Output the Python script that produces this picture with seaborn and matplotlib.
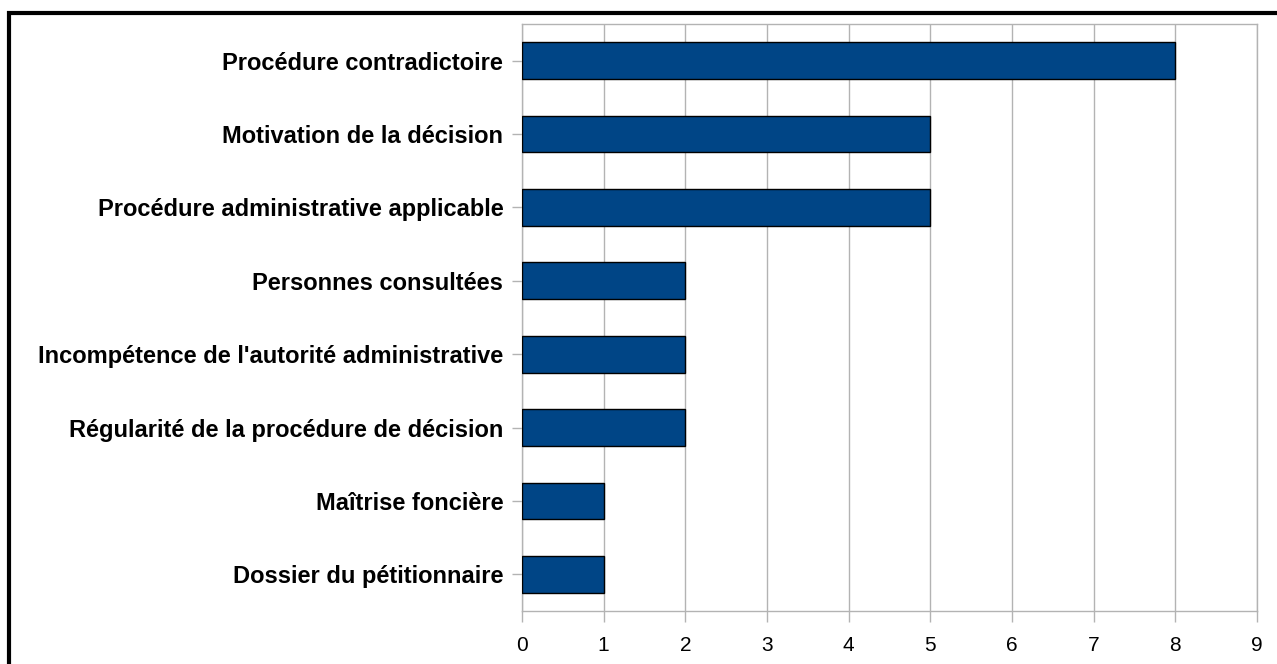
import matplotlib
matplotlib.use("Agg")
import matplotlib.pyplot as plt
import seaborn as sns
import pandas as pd
from matplotlib.lines import Line2D

categories = [
    "Procédure contradictoire",
    "Motivation de la décision",
    "Procédure administrative applicable",
    "Personnes consultées",
    "Incompétence de l'autorité administrative",
    "Régularité de la procédure de décision",
    "Maîtrise foncière",
    "Dossier du pétitionnaire",
]
values = [8, 5, 5, 2, 2, 2, 1, 1]
xticks = list(range(0, 10))

sns.set_theme(style="white")
plt.rcParams['font.family'] = ['Liberation Sans', 'DejaVu Sans']

df = pd.DataFrame({"cat": categories, "val": values})

fig = plt.figure(figsize=(12.77, 6.64), dpi=100)
ax = fig.add_axes([522/1277, 53/664, 735/1277, 587/664])

sns.barplot(data=df, x="val", y="cat", orient="h", color="#004586",
            saturation=1, width=0.5, edgecolor="black", linewidth=1, ax=ax, zorder=3)

ax.set_xlim(0, 9)
ax.set_ylim(len(categories) - 0.5, -0.5)
ax.set_xticks(xticks)
ax.set_xticklabels([str(t) for t in xticks], fontsize=15)
ax.set_xlabel("")
ax.set_ylabel("")
for lab in ax.get_yticklabels():
    lab.set_fontweight("bold")
    lab.set_fontsize(17)
ax.grid(axis="x", color="#b3b3b3", linewidth=1, zorder=0)
ax.grid(axis="y", visible=False)
for s in ax.spines.values():
    s.set_color("#b3b3b3")
    s.set_linewidth(1)
ax.tick_params(axis="x", length=8, width=1, color="#b3b3b3", pad=10, labelcolor="black")
ax.tick_params(axis="y", length=7, width=1, color="#b3b3b3", pad=6.5, labelcolor="black")
ax.tick_params(bottom=True, left=True)

# outer frame (left and top edges visible)
fig.add_artist(Line2D([9/1277, 9/1277], [0, 1 - 11/664], transform=fig.transFigure, color="black", linewidth=3.0, solid_capstyle="butt"))
fig.add_artist(Line2D([7/1277, 1], [1 - 13/664, 1 - 13/664], transform=fig.transFigure, color="black", linewidth=3.0, solid_capstyle="butt"))

fig.savefig("out.png", dpi=100, facecolor="white")
